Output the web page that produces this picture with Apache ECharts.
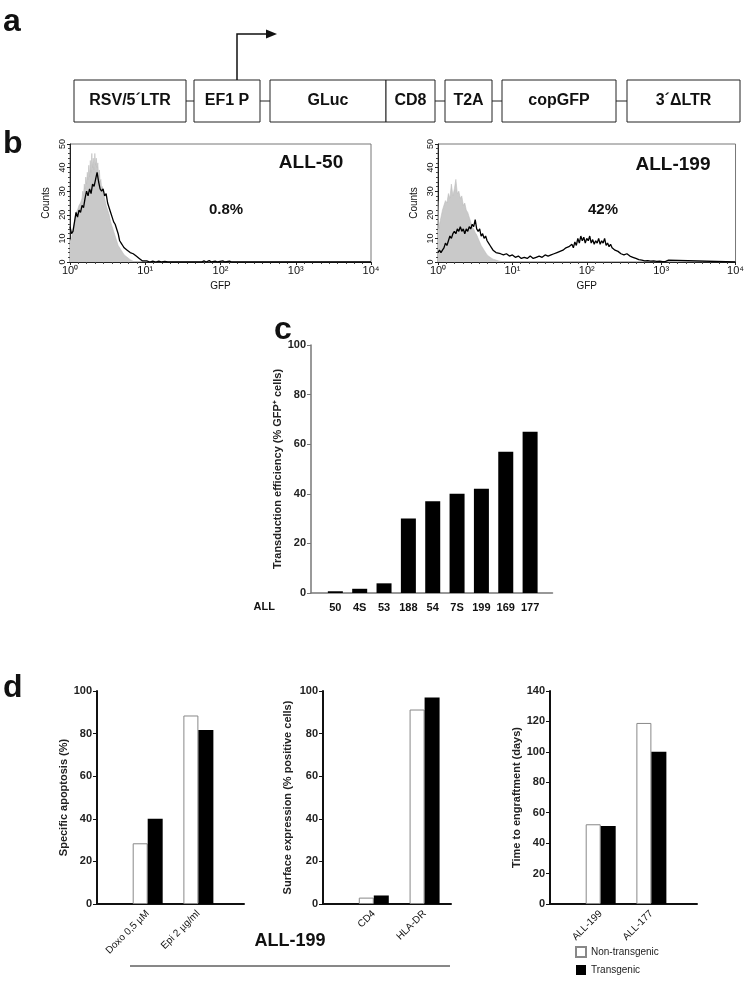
<!DOCTYPE html>
<html><head><meta charset="utf-8">
<script src="https://cdn.jsdelivr.net/npm/echarts@6/dist/echarts.min.js"></script>
<style>html,body{margin:0;padding:0;background:#fff}#c{width:747px;height:996px}</style>
</head><body><div id="c"></div>
<script>
// ---------- DATA ----------
const constructParts = ['RSV/5´LTR', 'EF1 P', 'GLuc', 'CD8', 'T2A', 'copGFP', '3´ΔLTR'];

const histTickLabels = ['10⁰', '10¹', '10²', '10³', '10⁴'];
// x = log10(GFP), y = counts
const all50CtrlX = [0,0.02,0.04,0.06,0.08,0.10,0.12,0.14,0.16,0.17,0.18,0.19,0.20,0.21,0.22,0.23,0.24,0.25,0.26,0.27,0.28,0.29,0.30,0.31,0.32,0.33,0.34,0.35,0.36,0.37,0.38,0.39,0.40,0.41,0.42,0.43,0.44,0.46,0.48,0.50,0.52,0.54,0.56,0.58,0.60,0.62,0.64,0.66,0.68,0.70,0.72,0.74,0.76,0.78,0.80,0.82,0.84,0.86];
const all50CtrlY = [9,10,14,17,21,22,24,25,27,30,28,33,31,36,33,38,35,41,36,43,38,46,40,44,39,46,41,44,40,42,36,39,34,35,31,32,29,27,24,22,20,17,15,13,11,9,7,6,5,4,3,2.5,2,1.5,1,0.5,0.3,0];
const all50GfpX = [0,0.02,0.04,0.06,0.08,0.10,0.12,0.14,0.16,0.18,0.20,0.22,0.24,0.26,0.28,0.30,0.32,0.34,0.36,0.38,0.40,0.42,0.44,0.46,0.48,0.50,0.52,0.54,0.56,0.58,0.60,0.62,0.64,0.66,0.68,0.70,0.72,0.74,0.76,0.78,0.80,0.82,0.84,0.86,0.88,0.90,0.92,0.94,0.96,0.98,1.02,1.06,1.10,1.14,1.18,1.22,1.26,1.30,1.75,1.78,1.81,1.85,1.88,1.93,1.96,2.03,2.06,2.12,2.15,4.0];
const all50GfpY = [15,12,13,17,21,19,22,21,24,23,27,30,28,31,29,33,32,35,38,34,31,30,31,28,29,25,23,21,19,17,16,14,12,9,8,7,6,6,5,4.5,4,4,3.5,3,2.5,2,1.5,1,0.5,0,0.5,0,0.4,0,0.4,0,0.3,0,0,0.5,0,0.6,0,0.4,0,0.5,0,0.4,0,0];

const all199CtrlX = [0,0.01,0.02,0.04,0.06,0.08,0.10,0.12,0.14,0.16,0.18,0.20,0.22,0.24,0.26,0.28,0.30,0.32,0.34,0.36,0.38,0.40,0.42,0.44,0.46,0.48,0.50,0.52,0.54,0.56,0.58,0.60,0.62,0.64,0.66,0.68,0.70,0.74,0.78,0.82,0.86,0.90];
const all199CtrlY = [26,14,16,19,22,24,26,25,29,27,33,28,31,35,29,30,27,28,24,25,22,21,19,17,15,14,12.5,11.5,10,8.5,7,6,5,4,3,2.5,2,1.2,0.8,0.4,0.2,0];
const all199GfpX = [0,0.02,0.04,0.06,0.08,0.10,0.12,0.14,0.16,0.18,0.20,0.22,0.24,0.26,0.28,0.30,0.32,0.34,0.36,0.38,0.40,0.42,0.44,0.46,0.48,0.50,0.52,0.54,0.56,0.58,0.60,0.62,0.64,0.66,0.68,0.70,0.72,0.74,0.76,0.78,0.80,0.84,0.88,0.92,0.96,1.00,1.04,1.08,1.12,1.16,1.20,1.24,1.28,1.32,1.36,1.40,1.44,1.48,1.52,1.56,1.60,1.64,1.68,1.72,1.76,1.80,1.82,1.84,1.86,1.88,1.90,1.92,1.94,1.96,1.98,2.00,2.02,2.04,2.06,2.08,2.10,2.12,2.14,2.16,2.18,2.20,2.22,2.24,2.26,2.28,2.30,2.32,2.34,2.36,2.38,2.40,2.42,2.44,2.46,2.48,2.50,2.54,2.58,2.62,2.66,2.70,2.74,2.78,2.82,2.86,2.90,2.94,2.98,3.02,3.06,3.10,3.12,4.0];
const all199GfpY = [4,5,4,5,6,8,7,9,11,10,12,13,12,14,13,15,13,14,12,14,13,15,14,16,15,18,14,13,14,11,12,10,11,9,8,7,6,5,5.5,4,4.5,3.5,3,3.5,2.5,3,2,2.5,1.5,2,1.5,2.5,1.5,2,2.5,2,3,2.5,3,3.5,4,4.5,5,6,6.5,7.5,6,8.5,7,10,8,11,9,10.5,8,10,9,11,8,9.5,7.5,9,8,10,7.5,9,8,10,7,8,6.5,7.5,6,6.5,5,5.5,4.5,5,3.5,4,3,3.5,2.5,2,1.5,1,0.8,0.5,0.6,0.4,0.5,0.3,0.4,0.2,0.3,0.8,0,0];

const cCategories = ['50', '4S', '53', '188', '54', '7S', '199', '169', '177'];
const cValues = [0.7, 1.7, 3.9, 30, 37, 40, 42, 57, 65];

const seriesNames = ['Non-transgenic', 'Transgenic'];
const d1Categories = ['Doxo 0,5 µM', 'Epi 2 µg/ml'];
const d1NonTransgenic = [28.5, 88.5];
const d1Transgenic = [40, 81.7];
const d2Categories = ['CD4', 'HLA-DR'];
const d2NonTransgenic = [3, 91.3];
const d2Transgenic = [4, 97];
const d3Categories = ['ALL-199', 'ALL-177'];
const d3NonTransgenic = [52.4, 119];
const d3Transgenic = [51.3, 100];

// ---------- CHART ----------
const FONT = '"Liberation Sans", Arial, Helvetica, sans-serif';
const chart = echarts.init(document.getElementById('c'), null, {renderer: 'canvas', width: 747, height: 996});
const zip = (xs, ys) => xs.map((x, i) => [x, ys[i]]);
const catFmt = cats => v => (Number.isInteger(v) && v >= 0 && v < cats.length) ? cats[v] : '';

function histX(gi) {
  return {
    gridIndex: gi, type: 'value', min: 0, max: 4, interval: 1,
    axisLine: {show: true, onZero: false, lineStyle: {color: '#222', width: 1}},
    axisTick: {show: true, length: 3, lineStyle: {color: '#222'}},
    minorTick: {show: true, splitNumber: 9, length: 2, lineStyle: {color: '#444'}},
    splitLine: {show: false},
    axisLabel: {formatter: v => histTickLabels[v] || '', fontFamily: FONT, fontSize: 11, color: '#111', margin: 3, showMinLabel: true, showMaxLabel: true},
    name: 'GFP', nameLocation: 'middle', nameGap: 19,
    nameTextStyle: {fontFamily: FONT, fontSize: 10, color: '#111'}
  };
}
function histY(gi) {
  return {
    gridIndex: gi, type: 'value', min: 0, max: 50, interval: 10,
    axisLine: {show: true, onZero: false, lineStyle: {color: '#222', width: 1}},
    axisTick: {show: true, length: 3, lineStyle: {color: '#222'}},
    minorTick: {show: true, splitNumber: 5, length: 2, lineStyle: {color: '#444'}},
    splitLine: {show: false},
    axisLabel: {rotate: 90, fontFamily: FONT, fontSize: 9, color: '#111', margin: 3},
    name: 'Counts', nameLocation: 'middle', nameGap: 19,
    nameTextStyle: {fontFamily: FONT, fontSize: 10, color: '#111'}
  };
}
function barX(gi, cats, max, color, width, labelOpts) {
  return {
    gridIndex: gi, type: 'value', min: -1, max: max, interval: 1,
    axisLine: {show: true, onZero: false, lineStyle: {color: color, width: width}},
    axisTick: {show: false}, splitLine: {show: false},
    axisLabel: Object.assign({formatter: catFmt(cats), fontFamily: FONT, color: '#111', showMinLabel: false, showMaxLabel: false}, labelOpts)
  };
}
function barY(gi, max, color, width, name, nameGap) {
  return {
    gridIndex: gi, type: 'value', min: 0, max: max, interval: 20,
    axisLine: {show: true, onZero: false, lineStyle: {color: color, width: width}},
    axisTick: {show: true, length: 4, lineStyle: {color: color, width: 1}},
    splitLine: {show: false},
    axisLabel: {fontFamily: FONT, fontSize: 11, fontWeight: 'bold', color: '#222', margin: 5},
    name: name, nameLocation: 'middle', nameGap: nameGap,
    nameTextStyle: {fontFamily: FONT, fontSize: 11, fontWeight: 'bold', color: '#222'}
  };
}

const whiteBar = {color: '#fff', borderColor: '#888', borderWidth: 1};
const blackBar = {color: '#000'};
function dSeries(gi, non, tr) {
  return [
    {name: seriesNames[0], type: 'bar', xAxisIndex: gi, yAxisIndex: gi, barWidth: 15, barGap: '0%', data: non.map((v, i) => [i, v]), itemStyle: whiteBar},
    {name: seriesNames[1], type: 'bar', xAxisIndex: gi, yAxisIndex: gi, barWidth: 15, barGap: '0%', data: tr.map((v, i) => [i, v]), itemStyle: blackBar}
  ];
}

// construct diagram layout (positions only)
const boxX = [[74,186],[194,260],[270,386],[386,435],[445,492],[502,616],[627,740]];
const boxTop = 80, boxH = 42;
const graphic = [];
boxX.forEach((b, i) => {
  graphic.push({type: 'rect', shape: {x: b[0], y: boxTop, width: b[1]-b[0], height: boxH}, style: {fill: '#fff', stroke: '#222', lineWidth: 1}});
  graphic.push({type: 'text', style: {text: constructParts[i], x: (b[0]+b[1])/2, y: boxTop + boxH/2, textAlign: 'center', textVerticalAlign: 'middle', font: 'bold 16px ' + FONT, fill: '#111'}});
  if (i > 0 && boxX[i-1][1] < b[0]) {
    graphic.push({type: 'line', shape: {x1: boxX[i-1][1], y1: boxTop + boxH/2, x2: b[0], y2: boxTop + boxH/2}, style: {stroke: '#222', lineWidth: 1}});
  }
});
graphic.push({type: 'polyline', shape: {points: [[237, boxTop], [237, 34], [267, 34]]}, style: {stroke: '#111', lineWidth: 1.5, fill: null}});
graphic.push({type: 'polygon', shape: {points: [[266, 29.5], [277, 34], [266, 38.5]]}, style: {fill: '#111'}});

const txt = (t, x, y, font, align) => ({type: 'text', style: {text: t, x: x, y: y, textAlign: align || 'left', textVerticalAlign: 'middle', font: font, fill: '#111'}});
graphic.push(txt('a', 3, 22, 'bold 32px ' + FONT));
graphic.push(txt('b', 3, 144, 'bold 32px ' + FONT));
graphic.push(txt('c', 274, 330, 'bold 32px ' + FONT));
graphic.push(txt('d', 3, 688, 'bold 32px ' + FONT));
graphic.push(txt('ALL-50', 311, 163, 'bold 19px ' + FONT, 'center'));
graphic.push(txt('0.8%', 226, 210, 'bold 15px ' + FONT, 'center'));
graphic.push(txt('ALL-199', 673, 165, 'bold 19px ' + FONT, 'center'));
graphic.push(txt('42%', 603, 210, 'bold 15px ' + FONT, 'center'));
graphic.push(txt('ALL', 275, 607, 'bold 11px ' + FONT, 'right'));
graphic.push(txt('ALL-199', 290, 941, 'bold 18px ' + FONT, 'center'));
graphic.push({type: 'line', shape: {x1: 130, y1: 966, x2: 450, y2: 966}, style: {stroke: '#111', lineWidth: 1}});

const option = {
  animation: false,
  backgroundColor: '#fff',
  graphic: graphic,
  legend: {
    data: seriesNames, orient: 'vertical', left: 570, top: 941, itemWidth: 10, itemHeight: 10, itemGap: 7,
    icon: 'rect', textStyle: {fontFamily: FONT, fontSize: 10, color: '#222'}
  },
  grid: [
    {left: 70, top: 144, width: 301, height: 118, show: true, borderColor: '#777', borderWidth: 1, backgroundColor: 'transparent'},
    {left: 438, top: 144, width: 299, height: 118, show: true, borderColor: '#777', borderWidth: 1, backgroundColor: 'transparent'},
    {left: 311, top: 345, width: 241.5, height: 248},
    {left: 97, top: 691, width: 147, height: 213},
    {left: 323, top: 691, width: 128, height: 213},
    {left: 550, top: 691, width: 147, height: 213}
  ],
  xAxis: [
    histX(0), histX(1),
    barX(2, cCategories, 8.92, '#777', 1.5, {fontSize: 11, fontWeight: 'bold', margin: 9}),
    barX(3, d1Categories, 1.9, '#111', 2, {fontSize: 10, rotate: 45, margin: 8}),
    barX(4, d2Categories, 1.52, '#111', 2, {fontSize: 10, rotate: 45, margin: 8}),
    barX(5, d3Categories, 1.9, '#111', 2, {fontSize: 10, rotate: 45, margin: 8})
  ],
  yAxis: [
    histY(0), histY(1),
    barY(2, 100, '#777', 1.5, 'Transduction efficiency (% GFP⁺ cells)', 28),
    barY(3, 100, '#111', 2, 'Specific apoptosis (%)', 28),
    barY(4, 100, '#111', 2, 'Surface expression (% positive cells)', 30),
    barY(5, 140, '#111', 2, 'Time to engraftment (days)', 28)
  ],
  series: [
    {type: 'line', xAxisIndex: 0, yAxisIndex: 0, data: zip(all50CtrlX, all50CtrlY), symbol: 'none', lineStyle: {width: 0.6, color: '#bdbdbd'}, areaStyle: {color: '#c9c9c9', opacity: 1}, z: 2},
    {type: 'line', xAxisIndex: 0, yAxisIndex: 0, data: zip(all50GfpX, all50GfpY), symbol: 'none', lineStyle: {width: 1.3, color: '#000'}, z: 3},
    {type: 'line', xAxisIndex: 1, yAxisIndex: 1, data: zip(all199CtrlX, all199CtrlY), symbol: 'none', lineStyle: {width: 0.6, color: '#bdbdbd'}, areaStyle: {color: '#c9c9c9', opacity: 1}, z: 2},
    {type: 'line', xAxisIndex: 1, yAxisIndex: 1, data: zip(all199GfpX, all199GfpY), symbol: 'none', lineStyle: {width: 1.3, color: '#000'}, z: 3},
    {type: 'bar', xAxisIndex: 2, yAxisIndex: 2, barWidth: 15, data: cValues.map((v, i) => [i, v]), itemStyle: {color: '#000'}},
    ...dSeries(3, d1NonTransgenic, d1Transgenic),
    ...dSeries(4, d2NonTransgenic, d2Transgenic),
    ...dSeries(5, d3NonTransgenic, d3Transgenic)
  ]
};
chart.setOption(option);
</script>
</body></html>
